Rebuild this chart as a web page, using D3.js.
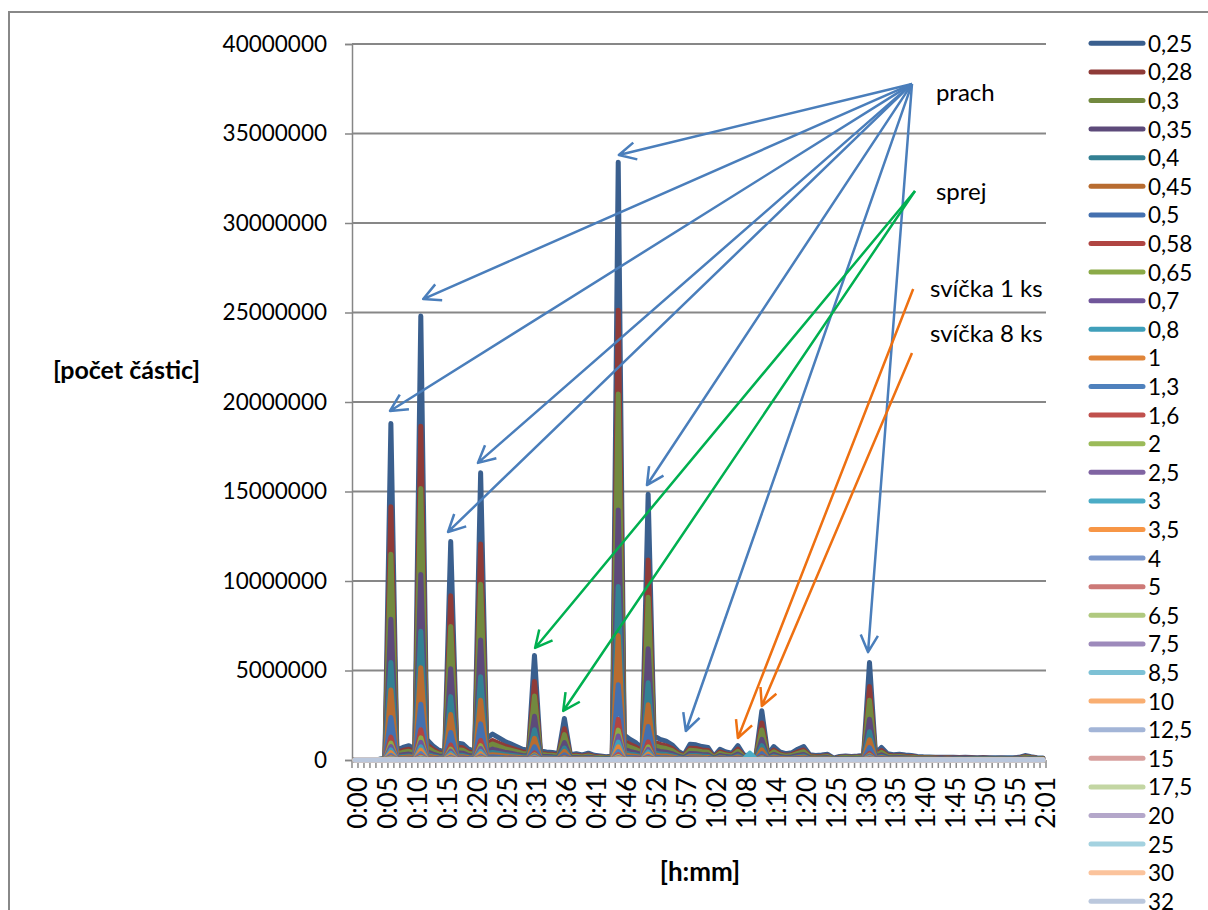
<!DOCTYPE html>
<html>
<head>
<meta charset="utf-8">
<script src="https://cdn.jsdelivr.net/npm/d3@7"></script>
<style>
  body { margin: 0; background: #fff; }
  text { font-family: Lato, "Open Sans", sans-serif; fill: #000; }
</style>
</head>
<body>
<svg id="chart"></svg>
<script>
// sample times (one per category, only every 5th is labelled)
const times = [
  '0:00','0:01','0:02','0:03','0:04','0:05','0:06','0:07','0:08','0:09',
  '0:10','0:11','0:12','0:13','0:14','0:15','0:16','0:17','0:18','0:19',
  '0:20','0:21','0:22','0:23','0:24','0:25','0:26','0:27','0:28','0:30',
  '0:31','0:32','0:33','0:34','0:35','0:36','0:37','0:38','0:39','0:40',
  '0:41','0:42','0:43','0:44','0:45','0:46','0:47','0:48','0:49','0:51',
  '0:52','0:53','0:54','0:55','0:56','0:57','0:58','0:59','1:00','1:01',
  '1:02','1:03','1:04','1:05','1:07','1:08','1:09','1:10','1:12','1:13',
  '1:14','1:15','1:16','1:18','1:19','1:20','1:21','1:22','1:23','1:24',
  '1:25','1:26','1:27','1:28','1:29','1:30','1:31','1:32','1:33','1:34',
  '1:35','1:36','1:37','1:38','1:39','1:40','1:41','1:42','1:43','1:44',
  '1:45','1:46','1:47','1:48','1:49','1:50','1:51','1:52','1:53','1:54',
  '1:55','1:56','1:57','1:58','2:00','2:01'
];

const sizes = ['0,25','0,28','0,3','0,35','0,4','0,45','0,5','0,58','0,65','0,7','0,8','1',
  '1,3','1,6','2','2,5','3','3,5','4','5','6,5','7,5','8,5','10','12,5','15','17,5','20','25','30','32'];

const yTicks = [0, 5000, 10000, 15000, 20000, 25000, 30000, 35000, 40000]; // thousands

// particle counts per size channel, in thousands
const s025 = [30,30,30,30,40,100,18800,550,700,800,
  600,24800,1150,800,550,450,12200,950,900,600,
  500,16050,1200,1450,1250,1050,900,750,600,550,
  5840,500,450,420,350,2320,300,350,280,380,
  260,220,180,220,33400,1400,1150,950,650,14850,
  1350,1150,1050,850,500,300,880,850,750,700,
  200,600,450,380,800,280,220,200,2750,300,
  750,450,350,400,600,750,300,250,280,320,
  100,200,220,200,220,250,5450,350,700,350,
  300,320,280,250,200,180,170,160,150,160,
  150,140,150,140,130,140,130,120,130,120,
  120,150,250,180,130,110];
const s028 = [20,20,20,20,30,75,14150,410,530,600,
  450,18650,870,600,410,340,9170,710,680,450,
  380,12070,900,1090,940,790,680,560,450,410,
  4390,380,340,320,260,1750,230,260,210,290,
  200,170,140,170,25120,1050,870,710,490,11170,
  1020,870,790,640,380,230,660,640,560,530,
  150,450,340,290,600,210,170,150,2070,230,
  560,340,260,300,450,560,230,190,210,240,
  75,150,170,150,170,190,4100,260,530,260,
  230,240,210,190,150,140,130,120,110,120,
  110,110,110,110,100,110,100,90,100,90,
  90,110,190,140,100,80];
const s03 = [18,18,18,18,24,60,11500,340,430,490,
  370,15170,700,490,340,275,7460,580,550,370,
  305,9820,730,890,760,640,550,460,370,340,
  3570,305,275,260,215,1420,185,215,170,230,
  160,135,110,135,20440,860,700,580,400,9090,
  830,700,640,520,305,185,540,520,460,430,
  120,370,275,230,490,170,135,120,1680,185,
  460,275,215,245,370,460,185,155,170,195,
  60,120,135,120,135,155,3340,215,430,215,
  185,195,170,155,120,110,105,100,90,100,
  90,85,90,85,80,85,80,75,80,75,
  75,90,155,110,80,70];
const s035 = [12,12,12,12,17,42,7860,230,290,330,
  250,10370,480,330,230,190,5100,400,380,250,
  210,6710,500,610,520,440,380,310,250,230,
  2440,210,190,175,145,970,125,145,115,160,
  110,90,75,90,13960,590,480,400,270,6210,
  560,480,440,355,210,125,370,355,310,290,
  85,250,190,160,330,115,90,85,1150,125,
  310,190,145,165,250,310,125,105,115,135,
  40,85,90,85,90,105,2280,145,290,145,
  125,135,115,105,85,75,70,65,65,65,
  65,60,65,60,55,60,55,50,55,50,
  50,65,105,75,55,45];
const s04 = [9,9,9,9,12,29,5450,160,200,230,
  175,7190,330,230,160,130,3540,275,260,175,
  145,4650,350,420,360,305,260,220,175,160,
  1690,145,130,120,100,670,85,100,80,110,
  75,65,50,65,9690,405,330,275,190,4310,
  390,330,305,245,145,85,255,245,220,200,
  60,175,130,110,230,80,65,60,800,85,
  220,130,100,115,175,220,85,70,80,95,
  30,60,65,60,65,70,1580,100,200,100,
  85,95,80,70,60,50,50,45,45,45,
  45,40,45,40,40,40,40,35,40,35,
  35,45,70,50,40,30];
const s045 = [6,6,6,6,8,21,3910,115,145,165,
  125,5160,240,165,115,95,2540,200,185,125,
  105,3340,250,300,260,220,185,155,125,115,
  1210,105,95,85,75,480,60,75,60,80,
  55,45,35,45,6950,290,240,200,135,3090,
  280,240,220,175,105,60,185,175,155,145,
  40,125,95,80,165,60,45,40,570,60,
  155,95,75,85,125,155,60,50,60,65,
  20,40,45,40,45,50,1130,75,145,75,
  60,65,60,50,40,35,35,35,30,35,
  30,30,30,30,25,30,25,25,25,25,
  25,30,50,35,25,25];
const s05 = [4,4,4,4,5,13,2370,70,90,100,
  75,3120,145,100,70,55,1540,120,115,75,
  65,2020,150,180,160,130,115,95,75,70,
  740,65,55,55,45,290,40,45,35,50,
  35,30,25,30,4210,175,145,120,80,1870,
  170,145,130,105,65,40,110,105,95,90,
  25,75,55,50,100,35,30,25,350,40,
  95,55,45,50,75,95,40,30,35,40,
  15,25,30,25,30,30,690,45,90,45,
  40,40,35,30,25,25,20,20,20,20,
  20,20,20,20,15,20,15,15,15,15,
  15,20,30,25,15,15];
const s058 = [2,2,2,2,3,7,1280,37,48,54,
  41,1690,78,54,37,31,830,65,61,41,
  34,1090,82,99,85,71,61,51,41,37,
  400,34,31,29,24,158,20,24,19,26,
  18,15,12,15,2270,95,78,65,44,1010,
  92,78,71,58,34,20,60,58,51,48,
  14,41,31,26,54,19,15,14,187,20,
  51,31,24,27,41,51,20,17,19,22,
  7,14,15,14,15,17,370,24,48,24,
  20,22,19,17,14,12,12,11,10,11,
  10,10,10,10,9,10,9,8,9,8,
  8,10,17,12,9,7];
const s065 = [2,2,2,2,2,5,940,28,35,40,
  30,1240,58,40,28,23,610,48,45,30,
  25,800,60,73,63,53,45,38,30,28,
  290,25,23,21,18,116,15,18,14,19,
  13,11,9,11,1670,70,58,48,33,740,
  68,58,53,43,25,15,44,43,38,35,
  10,30,23,19,40,14,11,10,138,15,
  38,23,18,20,30,38,15,13,14,16,
  5,10,11,10,11,13,270,18,35,18,
  15,16,14,13,10,9,9,8,8,8,
  8,7,8,7,7,7,7,6,7,6,
  6,8,13,9,7,6];
const s07 = [1,1,1,1,2,4,750,22,28,32,
  24,990,46,32,22,18,490,38,36,24,
  20,640,48,58,50,42,36,30,24,22,
  234,20,18,17,14,93,12,14,11,15,
  10,9,7,9,1340,56,46,38,26,590,
  54,46,42,34,20,12,35,34,30,28,
  8,24,18,15,32,11,9,8,110,12,
  30,18,14,16,24,30,12,10,11,13,
  4,8,9,8,9,10,218,14,28,14,
  12,13,11,10,8,7,7,6,6,6,
  6,6,6,6,5,6,5,5,5,5,
  5,6,10,7,5,4];
const s08 = [1,1,1,1,1,3,560,17,21,24,
  18,740,35,24,17,14,370,29,27,18,
  15,480,36,44,38,32,27,23,18,17,
  175,15,14,13,11,70,9,11,8,11,
  8,7,5,7,1000,42,35,29,20,450,
  41,35,32,26,15,9,26,26,23,21,
  6,18,14,11,24,8,7,6,83,9,
  23,14,11,12,18,23,9,8,8,10,
  3,6,7,6,7,8,164,11,21,11,
  9,10,8,8,6,5,5,5,5,5,
  5,4,5,4,4,4,4,4,4,4,
  4,5,8,5,4,3];
const s1 = [1,1,1,1,1,2,410,12,15,18,
  13,550,25,18,12,10,270,21,20,13,
  11,350,26,32,28,23,20,17,13,12,
  128,11,10,9,8,51,7,8,6,8,
  6,5,4,5,735,31,25,21,14,330,
  30,25,23,19,11,7,19,19,17,15,
  4,13,10,8,18,6,5,4,60,7,
  17,10,8,9,13,17,7,6,6,7,
  2,4,5,4,5,6,120,8,15,8,
  7,7,6,6,4,4,4,4,3,4,
  3,3,3,3,3,3,3,3,3,3,
  3,3,6,4,3,2];
const s13 = [0,0,0,0,1,1,260,8,10,11,
  8,350,16,11,8,6,170,13,13,8,
  7,225,17,20,18,15,13,11,8,8,
  82,7,6,6,5,32,4,5,4,5,
  4,3,3,3,470,20,16,13,9,210,
  19,16,15,12,7,4,12,12,11,10,
  3,8,6,5,11,4,3,3,39,4,
  11,6,5,6,8,11,4,4,4,4,
  1,3,3,3,3,4,76,5,10,5,
  4,4,4,4,3,3,2,2,2,2,
  2,2,2,2,2,2,2,2,2,2,
  2,2,4,3,2,2];
const s16 = [0,0,0,0,0,1,170,5,6,7,
  5,220,10,7,5,4,110,9,8,5,
  5,145,11,13,11,9,8,7,5,5,
  53,5,4,4,3,21,3,3,3,3,
  2,2,2,2,300,13,10,9,6,134,
  12,10,9,8,5,3,8,8,7,6,
  2,5,4,3,7,3,2,2,25,3,
  7,4,3,4,5,7,3,2,3,3,
  1,2,2,2,2,2,49,3,6,3,
  3,3,3,2,2,2,2,1,1,1,
  1,1,1,1,1,1,1,1,1,1,
  1,1,2,2,1,1];
const s2 = [0,0,0,0,0,1,113,3,4,5,
  4,149,7,5,3,3,73,6,5,4,
  3,96,7,9,8,6,5,5,4,3,
  35,3,3,3,2,14,2,2,2,2,
  2,1,1,1,200,8,7,6,4,89,
  8,7,6,5,3,2,5,5,5,4,
  1,4,3,2,5,2,1,1,17,2,
  5,3,2,2,4,5,2,2,2,2,
  1,1,1,1,1,2,33,2,4,2,
  2,2,2,2,1,1,1,1,1,1,
  1,1,1,1,1,1,1,1,1,1,
  1,1,2,1,1,1];
const s25 = [0,0,0,0,0,0,75,2,3,3,
  2,99,5,3,2,2,49,4,4,2,
  2,64,5,6,5,4,4,3,2,2,
  23,2,2,2,1,9,1,1,1,2,
  1,1,1,1,134,6,5,4,3,59,
  5,5,4,3,2,1,4,3,3,3,
  1,2,2,2,3,1,1,1,11,1,
  3,2,1,2,2,3,1,1,1,1,
  0,1,1,1,1,1,22,1,3,1,
  1,1,1,1,1,1,1,1,1,1,
  1,1,1,1,1,1,1,1,1,1,
  0,1,1,1,1,0];
const s3 = [0,0,0,0,0,0,56,2,2,2,
  2,74,3,2,2,1,37,3,3,2,
  2,48,4,4,4,3,3,2,2,2,
  18,2,1,1,1,7,1,1,1,1,
  1,1,1,1,100,4,3,3,2,45,
  4,3,3,3,2,1,3,3,2,2,
  1,2,1,1,2,40,380,40,8,1,
  2,1,1,1,2,2,1,1,1,1,
  0,1,1,1,1,1,16,1,2,1,
  1,1,1,1,1,1,1,0,0,0,
  0,0,0,0,0,0,0,0,0,0,
  0,0,1,1,0,0];
const s35 = [0,0,0,0,0,0,38,1,1,2,
  1,50,2,2,1,1,24,2,2,1,
  1,32,2,3,3,2,2,2,1,1,
  12,1,1,1,1,5,1,1,1,1,
  1,0,0,0,67,3,2,2,1,30,
  3,2,2,2,1,1,2,2,2,1,
  0,1,1,1,2,1,0,0,6,1,
  2,1,1,1,1,2,1,1,1,1,
  0,0,0,0,0,1,11,1,1,1,
  1,1,1,1,0,0,0,0,0,0,
  0,0,0,0,0,0,0,0,0,0,
  0,0,1,0,0,0];
const s4 = [0,0,0,0,0,0,26,1,1,1,
  1,35,2,1,1,1,17,1,1,1,
  1,22,2,2,2,1,1,1,1,1,
  8,1,1,1,0,3,0,0,0,1,
  0,0,0,0,47,2,2,1,1,21,
  2,2,1,1,1,0,1,1,1,1,
  0,1,1,1,1,0,0,0,4,0,
  1,1,0,1,1,1,0,0,0,0,
  0,0,0,0,0,0,8,0,1,0,
  0,0,0,0,0,0,0,0,0,0,
  0,0,0,0,0,0,0,0,0,0,
  0,0,0,0,0,0];
const s5 = [0,0,0,0,0,0,19,1,1,1,
  1,25,1,1,1,0,12,1,1,1,
  1,16,1,1,1,1,1,1,1,1,
  6,0,0,0,0,2,0,0,0,0,
  0,0,0,0,33,1,1,1,1,15,
  1,1,1,1,0,0,1,1,1,1,
  0,1,0,0,1,0,0,0,3,0,
  1,0,0,0,1,1,0,0,0,0,
  0,0,0,0,0,0,5,0,1,0,
  0,0,0,0,0,0,0,0,0,0,
  0,0,0,0,0,0,0,0,0,0,
  0,0,0,0,0,0];
const s65 = [0,0,0,0,0,0,9,0,0,0,
  0,12,0,0,0,0,6,0,0,0,
  0,8,0,0,0,0,0,0,0,0,
  3,0,0,0,0,1,0,0,0,0,
  0,0,0,0,17,0,0,0,0,7,
  0,0,0,0,0,0,0,0,0,0,
  0,0,0,0,0,0,0,0,1,0,
  0,0,0,0,0,0,0,0,0,0,
  0,0,0,0,0,0,3,0,0,0,
  0,0,0,0,0,0,0,0,0,0,
  0,0,0,0,0,0,0,0,0,0,
  0,0,0,0,0,0];
const s75 = [0,0,0,0,0,0,6,0,0,0,
  0,8,0,0,0,0,4,0,0,0,
  0,5,0,0,0,0,0,0,0,0,
  2,0,0,0,0,1,0,0,0,0,
  0,0,0,0,11,0,0,0,0,5,
  0,0,0,0,0,0,0,0,0,0,
  0,0,0,0,0,0,0,0,1,0,
  0,0,0,0,0,0,0,0,0,0,
  0,0,0,0,0,0,2,0,0,0,
  0,0,0,0,0,0,0,0,0,0,
  0,0,0,0,0,0,0,0,0,0,
  0,0,0,0,0,0];
const s85 = [0,0,0,0,0,0,4,0,0,0,
  0,6,0,0,0,0,3,0,0,0,
  0,4,0,0,0,0,0,0,0,0,
  1,0,0,0,0,1,0,0,0,0,
  0,0,0,0,8,0,0,0,0,4,
  0,0,0,0,0,0,0,0,0,0,
  0,0,0,0,0,0,0,0,1,0,
  0,0,0,0,0,0,0,0,0,0,
  0,0,0,0,0,0,1,0,0,0,
  0,0,0,0,0,0,0,0,0,0,
  0,0,0,0,0,0,0,0,0,0,
  0,0,0,0,0,0];
const s10 = [0,0,0,0,0,0,3,0,0,0,
  0,4,0,0,0,0,2,0,0,0,
  0,3,0,0,0,0,0,0,0,0,
  1,0,0,0,0,0,0,0,0,0,
  0,0,0,0,5,0,0,0,0,2,
  0,0,0,0,0,0,0,0,0,0,
  0,0,0,0,0,0,0,0,0,0,
  0,0,0,0,0,0,0,0,0,0,
  0,0,0,0,0,0,1,0,0,0,
  0,0,0,0,0,0,0,0,0,0,
  0,0,0,0,0,0,0,0,0,0,
  0,0,0,0,0,0];
const s125 = [0,0,0,0,0,0,2,0,0,0,
  0,3,0,0,0,0,1,0,0,0,
  0,2,0,0,0,0,0,0,0,0,
  1,0,0,0,0,0,0,0,0,0,
  0,0,0,0,3,0,0,0,0,1,
  0,0,0,0,0,0,0,0,0,0,
  0,0,0,0,0,0,0,0,0,0,
  0,0,0,0,0,0,0,0,0,0,
  0,0,0,0,0,0,1,0,0,0,
  0,0,0,0,0,0,0,0,0,0,
  0,0,0,0,0,0,0,0,0,0,
  0,0,0,0,0,0];
const s15 = [0,0,0,0,0,0,1,0,0,0,
  0,2,0,0,0,0,1,0,0,0,
  0,1,0,0,0,0,0,0,0,0,
  0,0,0,0,0,0,0,0,0,0,
  0,0,0,0,2,0,0,0,0,1,
  0,0,0,0,0,0,0,0,0,0,
  0,0,0,0,0,0,0,0,0,0,
  0,0,0,0,0,0,0,0,0,0,
  0,0,0,0,0,0,0,0,0,0,
  0,0,0,0,0,0,0,0,0,0,
  0,0,0,0,0,0,0,0,0,0,
  0,0,0,0,0,0];
const s175 = [0,0,0,0,0,0,1,0,0,0,
  0,1,0,0,0,0,1,0,0,0,
  0,1,0,0,0,0,0,0,0,0,
  0,0,0,0,0,0,0,0,0,0,
  0,0,0,0,2,0,0,0,0,1,
  0,0,0,0,0,0,0,0,0,0,
  0,0,0,0,0,0,0,0,0,0,
  0,0,0,0,0,0,0,0,0,0,
  0,0,0,0,0,0,0,0,0,0,
  0,0,0,0,0,0,0,0,0,0,
  0,0,0,0,0,0,0,0,0,0,
  0,0,0,0,0,0];
const s20 = [0,0,0,0,0,0,1,0,0,0,
  0,1,0,0,0,0,0,0,0,0,
  0,1,0,0,0,0,0,0,0,0,
  0,0,0,0,0,0,0,0,0,0,
  0,0,0,0,1,0,0,0,0,0,
  0,0,0,0,0,0,0,0,0,0,
  0,0,0,0,0,0,0,0,0,0,
  0,0,0,0,0,0,0,0,0,0,
  0,0,0,0,0,0,0,0,0,0,
  0,0,0,0,0,0,0,0,0,0,
  0,0,0,0,0,0,0,0,0,0,
  0,0,0,0,0,0];
const s250 = [0,0,0,0,0,0,0,0,0,0,
  0,1,0,0,0,0,0,0,0,0,
  0,0,0,0,0,0,0,0,0,0,
  0,0,0,0,0,0,0,0,0,0,
  0,0,0,0,1,0,0,0,0,0,
  0,0,0,0,0,0,0,0,0,0,
  0,0,0,0,0,0,0,0,0,0,
  0,0,0,0,0,0,0,0,0,0,
  0,0,0,0,0,0,0,0,0,0,
  0,0,0,0,0,0,0,0,0,0,
  0,0,0,0,0,0,0,0,0,0,
  0,0,0,0,0,0];
const s30 = [0,0,0,0,0,0,0,0,0,0,
  0,1,0,0,0,0,0,0,0,0,
  0,0,0,0,0,0,0,0,0,0,
  0,0,0,0,0,0,0,0,0,0,
  0,0,0,0,1,0,0,0,0,0,
  0,0,0,0,0,0,0,0,0,0,
  0,0,0,0,0,0,0,0,0,0,
  0,0,0,0,0,0,0,0,0,0,
  0,0,0,0,0,0,0,0,0,0,
  0,0,0,0,0,0,0,0,0,0,
  0,0,0,0,0,0,0,0,0,0,
  0,0,0,0,0,0];
const s32 = [0,0,0,0,0,0,0,0,0,0,
  0,0,0,0,0,0,0,0,0,0,
  0,0,0,0,0,0,0,0,0,0,
  0,0,0,0,0,0,0,0,0,0,
  0,0,0,0,1,0,0,0,0,0,
  0,0,0,0,0,0,0,0,0,0,
  0,0,0,0,0,0,0,0,0,0,
  0,0,0,0,0,0,0,0,0,0,
  0,0,0,0,0,0,0,0,0,0,
  0,0,0,0,0,0,0,0,0,0,
  0,0,0,0,0,0,0,0,0,0,
  0,0,0,0,0,0];

const series = [s025,s028,s03,s035,s04,s045,s05,s058,s065,s07,s08,s1,
  s13,s16,s2,s25,s3,s35,s4,s5,s65,s75,s85,s10,s125,s15,s175,s20,s250,s30,s32];

const colors = [
  '#3A5F8E','#8F3B38','#72893F','#5D4A7A','#338093','#B86C30',
  '#4470AF','#B04542','#8BAA48','#70569A','#3F9FBA','#E0853A',
  '#4F81BD','#C0504D','#9BBB59','#8064A2','#4BACC6','#F79646',
  '#7B97CB','#CD7977','#B0C97F','#9D8ABB','#7DC1D5','#F9AE71',
  '#A3B5D7','#D8A09E','#C3D6A3','#B4A7CA','#A4D2E0','#FBC39C',
  '#BBC8DD'];

// annotation arrows, positioned in data units: [category index, value in thousands]
const annotations = [
  { label: 'prach', color: '#4A7EBB', text: [97.1, 37370], from: [93.1, 37770],
    to: [[44.1, 33800], [11.4, 25750], [5.85, 19500], [20.55, 16600],
         [15.55, 12740], [48.8, 15360], [55.3, 1620], [85.75, 6030]] },
  { label: 'sprej', color: '#00B050', text: [97.1, 31840], from: [93.6, 31790],
    to: [[30.1, 6260], [34.8, 2740]] },
  { label: 'svíčka 1 ks', color: '#EE7011', text: [96.1, 26420], from: [93.3, 26310],
    to: [[64.0, 1230]] },
  { label: 'svíčka 8 ks', color: '#EE7011', text: [96.1, 23900], from: [93.1, 22740],
    to: [[68.0, 3020]] }
];

const width = 1208, height = 910;
const svg = d3.select('#chart').attr('width', width).attr('height', height);

// chart area border
svg.append('rect')
    .attr('x', 9).attr('y', 12)
    .attr('width', 1400).attr('height', 1100)
    .attr('fill', 'none')
    .attr('stroke', '#888888')
    .attr('stroke-width', 2);

// scales
let x = d3.scaleBand().domain(times).range([352, 1046]);
let y = d3.scaleLinear().domain([0, 40000]).range([760, 44]);
let xi = i => x.range()[0] + (i + 0.5) * x.step();

// gridlines
svg.append('g')
    .selectAll('line')
    .data(yTicks.slice(1))
    .enter()
    .append('line')
    .attr('x1', 352).attr('x2', 1046)
    .attr('y1', d => y(d)).attr('y2', d => y(d))
    .attr('stroke', '#878787')
    .attr('stroke-width', 2);

// y axis
let yAxis = d3.axisLeft(y)
    .tickValues(yTicks)
    .tickSize(7)
    .tickPadding(18)
    .tickFormat(d => String(d * 1000));

let gy = svg.append('g')
    .attr('transform', 'translate(352,0)')
    .call(yAxis);
gy.select('.domain').attr('stroke', '#868686').attr('stroke-width', 1.5);
gy.selectAll('.tick line').attr('stroke', '#868686').attr('stroke-width', 1.5);
gy.selectAll('.tick text')
    .style('font-family', 'Lato, "Open Sans", sans-serif')
    .style('font-size', '22.5px')
    .attr('fill', '#000');

// x axis line and category tick marks
svg.append('line')
    .attr('x1', 352).attr('x2', 1046)
    .attr('y1', 760).attr('y2', 760)
    .attr('stroke', '#868686')
    .attr('stroke-width', 1.5);

svg.append('g')
    .selectAll('line')
    .data(d3.range(times.length + 1))
    .enter()
    .append('line')
    .attr('x1', d => x.range()[0] + d * x.step())
    .attr('x2', d => x.range()[0] + d * x.step())
    .attr('y1', 760).attr('y2', 768)
    .attr('stroke', '#8a8a8a')
    .attr('stroke-width', 1.5);

svg.append('g')
    .selectAll('text')
    .data(times.filter((t, i) => i % 5 === 0))
    .enter()
    .append('text')
    .text(d => d)
    .attr('transform', d => 'translate(' + (x(d) + x.bandwidth() / 2 + 2) + ',777) rotate(-90)')
    .attr('text-anchor', 'end')
    .attr('dominant-baseline', 'central')
    .style('font-size', '26px');

// series lines, first size drawn first so the smaller channels sit on top
let line = d3.line()
    .x((d, i) => x(times[i]) + x.bandwidth() / 2)
    .y(d => y(d));

svg.append('g')
    .selectAll('path')
    .data(series)
    .enter()
    .append('path')
    .attr('d', d => line(d))
    .attr('fill', 'none')
    .attr('stroke', (d, i) => colors[i])
    .attr('stroke-width', 5)
    .attr('stroke-linejoin', 'round')
    .attr('stroke-linecap', 'round');

// axis titles
svg.append('text')
    .text('[počet částic]')
    .attr('x', 53).attr('y', 369)
    .attr('dominant-baseline', 'central')
    .style('font-size', '25px')
    .style('font-weight', 'bold');

svg.append('text')
    .text('[h:mm]')
    .attr('x', 700).attr('y', 871)
    .attr('text-anchor', 'middle')
    .attr('dominant-baseline', 'central')
    .style('font-size', '26px')
    .style('font-weight', 'bold');

// legend
let legend = svg.append('g')
    .selectAll('g')
    .data(sizes)
    .enter()
    .append('g')
    .attr('transform', (d, i) => 'translate(0,' + (43.3 + i * 28.6) + ')');

legend.append('line')
    .attr('x1', 1091).attr('x2', 1143)
    .attr('stroke', (d, i) => colors[i])
    .attr('stroke-width', 5)
    .attr('stroke-linecap', 'round');

legend.append('text')
    .text(d => d)
    .attr('x', 1148)
    .attr('dominant-baseline', 'central')
    .style('font-size', '22.5px');

// annotation arrows
let px = p => [xi(p[0]), y(p[1])];

annotations.forEach(function(a) {
    let o = px(a.from);
    a.to.forEach(function(t) {
        let p = px(t);
        let ang = Math.atan2(o[1] - p[1], o[0] - p[0]);
        let arm = 19, spread = 27 * Math.PI / 180;
        let a1 = [p[0] + arm * Math.cos(ang + spread), p[1] + arm * Math.sin(ang + spread)];
        let a2 = [p[0] + arm * Math.cos(ang - spread), p[1] + arm * Math.sin(ang - spread)];
        svg.append('path')
            .attr('d', 'M' + o + 'L' + p + 'M' + a1 + 'L' + p + 'L' + a2)
            .attr('fill', 'none')
            .attr('stroke', a.color)
            .attr('stroke-width', 2.5)
            .attr('stroke-linejoin', 'round');
    });
    let tp = px(a.text);
    svg.append('text')
        .text(a.label)
        .attr('x', tp[0]).attr('y', tp[1])
        .attr('dominant-baseline', 'central')
        .style('font-size', '24px');
});
</script>
</body>
</html>
